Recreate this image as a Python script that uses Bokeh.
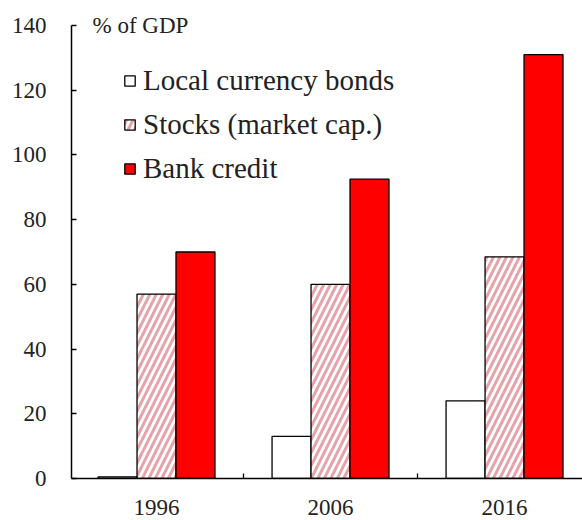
from bokeh.plotting import figure
from bokeh.models import FixedTicker, Legend, LegendItem, Label, Range1d
from bokeh.embed import file_html
from bokeh.resources import INLINE

years = ["1996", "2006", "2016"]
bonds = [0.5, 13, 24]
stocks = [57, 60, 68.5]
bank = [70, 92.5, 131]
series_names = ["Local currency bonds", "Stocks (market cap.)", "Bank credit"]
y_ticks = [0, 20, 40, 60, 80, 100, 120, 140]

FONT = "Liberation Serif"
TXT = "#222222"

p = figure(width=582, height=520, output_backend="svg", toolbar_location=None,
           x_range=Range1d(-0.4885, 2.448), y_range=Range1d(0, 147.1),
           min_border_left=71, min_border_right=0, min_border_top=2, min_border_bottom=42)
p.outline_line_color = None
p.grid.grid_line_color = None
p.background_fill_color = "white"
p.border_fill_color = "white"

xs = list(range(len(years)))
w = 0.224
r1 = p.vbar(x=[x - w for x in xs], top=bonds, width=w, fill_color="white",
            line_color="black", line_width=1.3)
r2 = p.vbar(x=xs, top=stocks, width=w, fill_color="white", line_color="black",
            line_width=1.3, hatch_pattern="/", hatch_color="#e6a3aa",
            hatch_scale=13, hatch_weight=3)
r3 = p.vbar(x=[x + w for x in xs], top=bank, width=w, fill_color="#ff0000",
            line_color="black", line_width=1.3)

# y axis
p.yaxis.ticker = FixedTicker(ticks=y_ticks)
p.yaxis.bounds = (y_ticks[0], y_ticks[-1])
p.yaxis.major_tick_in = 5
p.yaxis.major_tick_out = 0
p.yaxis.minor_tick_line_color = None
p.yaxis.major_label_standoff = 25
p.yaxis.major_label_text_font = FONT
p.yaxis.major_label_text_font_size = "23px"
p.yaxis.major_label_text_color = TXT
p.yaxis.axis_line_width = 1.5
p.yaxis.major_tick_line_width = 1.3

# x axis
p.xaxis.ticker = FixedTicker(ticks=xs, minor_ticks=[x + 0.5 for x in xs])
p.xaxis.major_label_overrides = {x: y for x, y in zip(xs, years)}
p.xaxis.major_tick_in = 0
p.xaxis.major_tick_out = 0
p.xaxis.minor_tick_in = 5
p.xaxis.minor_tick_out = 0
p.xaxis.minor_tick_line_width = 1.3
p.xaxis.major_label_standoff = 21
p.xaxis.major_label_text_font = FONT
p.xaxis.major_label_text_font_size = "23px"
p.xaxis.major_label_text_color = TXT
p.xaxis.axis_line_width = 1.5

p.add_layout(Label(x=-0.368, y=y_ticks[-1], text="% of GDP", text_font=FONT,
                   text_font_size="23px", text_color=TXT, text_baseline="middle"))

legend = Legend(items=[LegendItem(label=series_names[0], renderers=[r1]),
                       LegendItem(label=series_names[1], renderers=[r2]),
                       LegendItem(label=series_names[2], renderers=[r3])],
                location=(52, 293), border_line_color=None, background_fill_alpha=0,
                padding=0, margin=0, spacing=11, glyph_width=13, glyph_height=13,
                label_standoff=7, label_text_font=FONT, label_text_font_size="29px",
                label_text_color=TXT, label_height=20)
p.add_layout(legend)

open("out.html", "w").write(file_html(p, INLINE))
